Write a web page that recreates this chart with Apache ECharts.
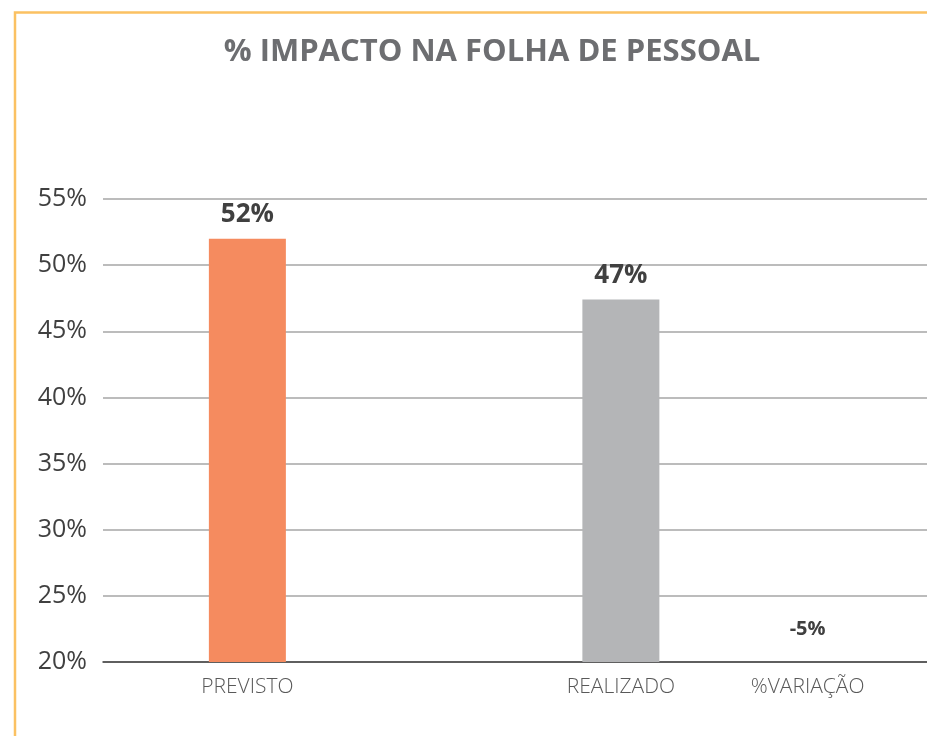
<!DOCTYPE html>
<html>
<head>
<meta charset="utf-8">
<script src="https://cdn.jsdelivr.net/npm/echarts@6/dist/echarts.min.js"></script>
<style>
  html, body { margin: 0; padding: 0; background: #fff; }
  #chart { width: 927px; height: 736px; }
</style>
</head>
<body>
<div id="chart"></div>
<script>
// dados do gráfico
const categories = ['PREVISTO', '', 'REALIZADO', '%VARIAÇÃO']
const values = [52, null, 47.4, null]
const barColors = ['#f58b5f', null, '#b4b5b7', null]
const variacao = -5
const yMin = 20
const yMax = 55
const yStep = 5

const chart = echarts.init(document.getElementById('chart'))

const font = '"Open Sans", "Noto Sans", sans-serif'

chart.setOption({
  backgroundColor: '#fff',
  animation: false,
  title: {
    text: '% IMPACTO NA FOLHA DE PESSOAL',
    left: 487,
    top: 32,
    textAlign: 'center',
    textStyle: {
      fontFamily: font,
      fontSize: 31,
      fontWeight: 'bold',
      color: '#6d6e71'
    }
  },
  graphic: [
    { // moldura amarela
      type: 'polyline',
      shape: { points: [[15, 736], [15, 12.5], [927, 12.5]] },
      style: { stroke: '#fbc162', lineWidth: 2.5, fill: null },
      silent: true
    }
  ],
  grid: [
    { left: 103, right: 0, top: 199, bottom: 74 },
    { left: 154, right: 26, top: 199, bottom: 74 }
  ],
  xAxis: [
    {
      gridIndex: 0,
      type: 'value',
      min: 0,
      max: 1,
      axisLine: { show: true, lineStyle: { color: '#404040', width: 1.5 } },
      axisTick: { show: false },
      axisLabel: { show: false },
      splitLine: { show: false }
    },
    {
      gridIndex: 1,
      type: 'category',
      data: categories,
      axisLine: { show: false },
      axisTick: { show: false },
      axisLabel: {
        interval: 0,
        margin: 15,
        fontFamily: font,
        fontSize: 21,
        fontWeight: 300,
        color: '#595959'
      }
    }
  ],
  yAxis: [
    {
      gridIndex: 0,
      type: 'value',
      min: yMin,
      max: yMax,
      interval: yStep,
      axisLine: { show: false },
      axisTick: { show: false },
      axisLabel: {
        formatter: '{value}%',
        margin: 16,
        fontFamily: font,
        fontSize: 25,
        color: '#404040'
      },
      splitLine: { lineStyle: { color: '#a6a6a6', width: 1.5 } }
    },
    {
      gridIndex: 1,
      type: 'value',
      min: yMin,
      max: yMax,
      interval: yStep,
      show: false,
      splitLine: { show: false }
    }
  ],
  series: [
    {
      type: 'bar',
      xAxisIndex: 1,
      yAxisIndex: 1,
      barWidth: 77,
      data: values.map((v, i) => ({
        value: v,
        itemStyle: { color: barColors[i] }
      })),
      label: {
        show: true,
        position: 'top',
        distance: 11,
        fontFamily: font,
        fontSize: 26,
        fontWeight: 'bold',
        color: '#404040',
        formatter: p => Math.round(p.value) + '%'
      },
      markPoint: {
        symbol: 'rect',
        symbolSize: 0,
        silent: true,
        label: {
          show: true,
          position: 'inside',
          offset: [0, -33],
          fontFamily: font,
          fontSize: 20,
          fontWeight: 'bold',
          color: '#404040',
          formatter: p => p.value + '%'
        },
        data: [{ coord: [categories[3], yMin], value: variacao }]
      }
    }
  ]
})
</script>
</body>
</html>
